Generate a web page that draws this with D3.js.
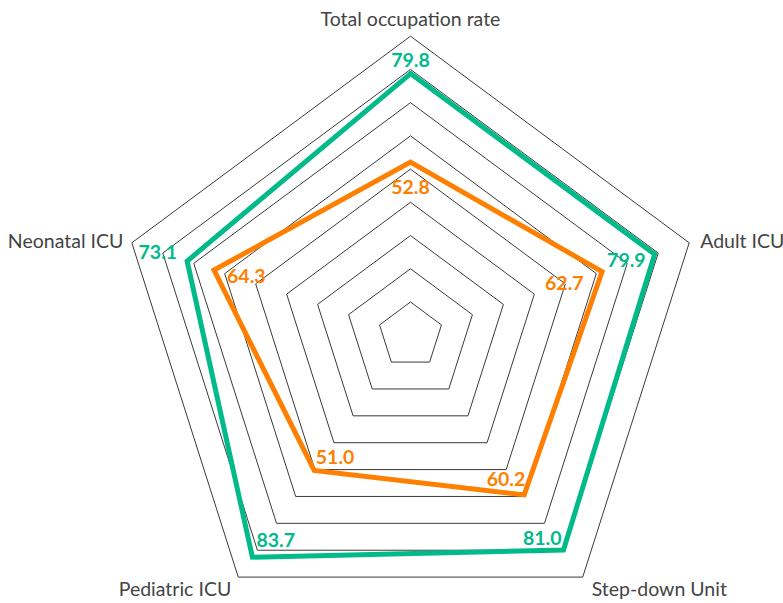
<!DOCTYPE html>
<html>
<head>
<meta charset="utf-8">
<script src="https://cdn.jsdelivr.net/npm/d3@7"></script>
<style>
  html, body { margin: 0; padding: 0; background: #fff; }
  svg { display: block; }
  text { font-family: Lato, "Open Sans", sans-serif; }
</style>
</head>
<body>
<svg id="chart" width="783" height="603"></svg>
<script>
// Occupation rates by unit, two periods
const axes = ["Total occupation rate", "Adult ICU", "Step-down Unit", "Pediatric ICU", "Neonatal ICU"];
const seriesHigh = [79.8, 79.9, 81.0, 83.7, 73.1];
const seriesLow  = [52.8, 62.7, 60.2, 51.0, 64.3];
const scaleMax = 91.2;
const ringCount = 9;

// Layout
const cx = 410.5, cy = 335.2, R = 299, squeezeX = 0.98;
const colors = { high: "#00ba8a", low: "#ff8000", grid: "#3a3a3a", label: "#444" };

// Label placement: [anchor, dx, dy] relative to the point on each spoke
const axisLabelPos = [["middle", 0, -10], ["start", 11, 5.5], ["start", 9, 19], ["end", -7, 19], ["end", -8.5, 5]];
const highLabelPos = [["middle", 0, -7], ["end", -9, 12.4], ["end", -2, -5], ["start", 4, -10], ["end", -10, -2]];
const lowLabelPos  = [["middle", 0, 32], ["end", -18.5, 18.3], ["end", 1, -9], ["start", 1.6, -6.5], ["start", 13, 13]];

const svg = d3.select("#chart");
const r = d3.scaleLinear().domain([0, scaleMax]).range([0, R]);
const angle = d3.scalePoint().domain(d3.range(axes.length)).range([0, 2 * Math.PI * (axes.length - 1) / axes.length]);

function pt(i, radius) {
  const a = angle(i);
  return [cx + radius * Math.sin(a) * squeezeX, cy - radius * Math.cos(a)];
}

const closed = d3.line().curve(d3.curveLinearClosed);

// Concentric pentagon grid
const ringRadii = d3.range(1, ringCount + 1).map(k => R * k / ringCount);
svg.append("g").selectAll("path")
  .data(ringRadii)
  .join("path")
  .attr("d", rad => closed(axes.map((_, i) => pt(i, rad))))
  .attr("fill", "none")
  .attr("stroke", colors.grid)
  .attr("stroke-width", 1);

// Series polygons
const series = [
  { values: seriesLow, color: colors.low, labels: lowLabelPos },
  { values: seriesHigh, color: colors.high, labels: highLabelPos }
];

svg.append("g").selectAll("path")
  .data(series)
  .join("path")
  .attr("d", s => closed(s.values.map((v, i) => pt(i, r(v)))))
  .attr("fill", "none")
  .attr("stroke", s => s.color)
  .attr("stroke-width", 5)
  .attr("stroke-linejoin", "miter");

// Value labels
series.forEach(s => {
  svg.append("g").selectAll("text")
    .data(s.values)
    .join("text")
    .attr("x", (v, i) => pt(i, r(v))[0] + s.labels[i][1])
    .attr("y", (v, i) => pt(i, r(v))[1] + s.labels[i][2])
    .attr("text-anchor", (v, i) => s.labels[i][0])
    .attr("fill", s.color)
    .attr("font-size", 19.5)
    .attr("font-weight", 700)
    .text(v => v.toFixed(1));
});

// Axis labels
svg.append("g").selectAll("text")
  .data(axes)
  .join("text")
  .attr("x", (d, i) => pt(i, R)[0] + axisLabelPos[i][1])
  .attr("y", (d, i) => pt(i, R)[1] + axisLabelPos[i][2])
  .attr("text-anchor", (d, i) => axisLabelPos[i][0])
  .attr("fill", colors.label)
  .attr("font-size", 19.5)
  .text(d => d);
</script>
</body>
</html>
